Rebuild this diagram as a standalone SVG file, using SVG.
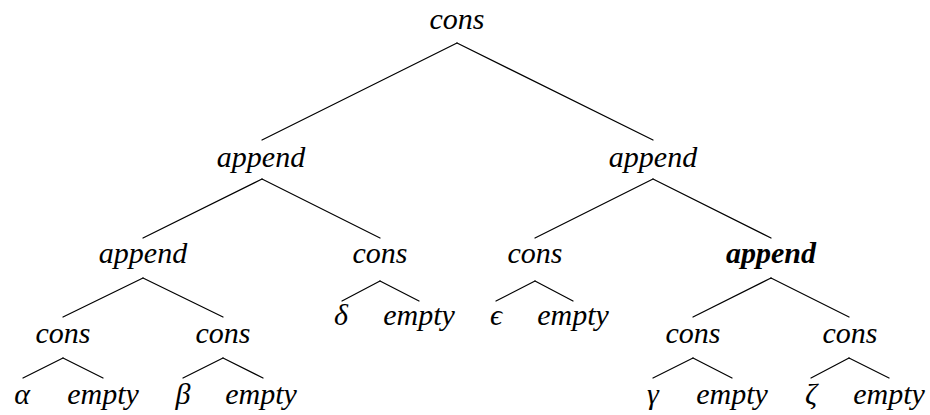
<svg xmlns="http://www.w3.org/2000/svg" width="930" height="415" viewBox="0 0 930 415">
<style>
text{font-family:'Liberation Serif','DejaVu Serif',serif;font-style:italic;font-size:30px;text-anchor:middle;fill:#000}
.b{font-weight:bold}
.e line{stroke:#000;stroke-width:1.2;stroke-linecap:round}
</style>
<rect width="930" height="415" fill="#fff"/>
<g class="e" id="connectors">
<line x1="457" y1="43" x2="262" y2="140"/>
<line x1="457" y1="43" x2="653" y2="140"/>
<line x1="262" y1="179" x2="143" y2="238"/>
<line x1="262" y1="179" x2="380" y2="238"/>
<line x1="653" y1="179" x2="535" y2="238"/>
<line x1="653" y1="179" x2="771" y2="238"/>
<line x1="143" y1="278" x2="63" y2="317"/>
<line x1="143" y1="278" x2="223" y2="317"/>
<line x1="380" y1="281" x2="342" y2="301"/>
<line x1="380" y1="281" x2="419" y2="301"/>
<line x1="535" y1="281" x2="496" y2="301"/>
<line x1="535" y1="281" x2="573" y2="301"/>
<line x1="771" y1="278" x2="693" y2="317"/>
<line x1="771" y1="278" x2="849" y2="317"/>
<line x1="63" y1="358" x2="23" y2="378"/>
<line x1="63" y1="358" x2="103" y2="378"/>
<line x1="223" y1="358" x2="183" y2="378"/>
<line x1="223" y1="358" x2="263" y2="378"/>
<line x1="693" y1="358" x2="653" y2="378"/>
<line x1="693" y1="358" x2="732" y2="378"/>
<line x1="849" y1="358" x2="811" y2="378"/>
<line x1="849" y1="358" x2="889" y2="378"/>
</g>
<g id="n-root"><text x="457" y="29">cons</text></g>
<g id="n-l"><text x="261" y="167">append</text></g>
<g id="n-r"><text x="653" y="167">append</text></g>
<g id="n-ll"><text x="143" y="263">append</text></g>
<g id="n-lr"><text x="380" y="263">cons</text></g>
<g id="n-rl"><text x="535" y="263">cons</text></g>
<g id="n-rr"><text class="b" x="771" y="263">append</text></g>
<g id="n-lll"><text x="63" y="343">cons</text></g>
<g id="n-llr"><text x="223" y="343">cons</text></g>
<g id="n-rrl"><text x="693" y="343">cons</text></g>
<g id="n-rrr"><text x="850" y="343">cons</text></g>
<g id="n-alpha"><text x="22" y="404">α</text></g>
<g id="n-e1"><text x="103" y="404">empty</text></g>
<g id="n-beta"><text x="183" y="404">β</text></g>
<g id="n-e2"><text x="261" y="404">empty</text></g>
<g id="n-delta"><text x="341" y="325">δ</text></g>
<g id="n-e3"><text x="419" y="325">empty</text></g>
<g id="n-eps"><text x="496" y="325">ϵ</text></g>
<g id="n-e4"><text x="573" y="325">empty</text></g>
<g id="n-gamma"><text x="653" y="404">γ</text></g>
<g id="n-e5"><text x="732" y="404">empty</text></g>
<g id="n-zeta"><text x="811" y="404">ζ</text></g>
<g id="n-e6"><text x="889" y="404">empty</text></g>
</svg>
